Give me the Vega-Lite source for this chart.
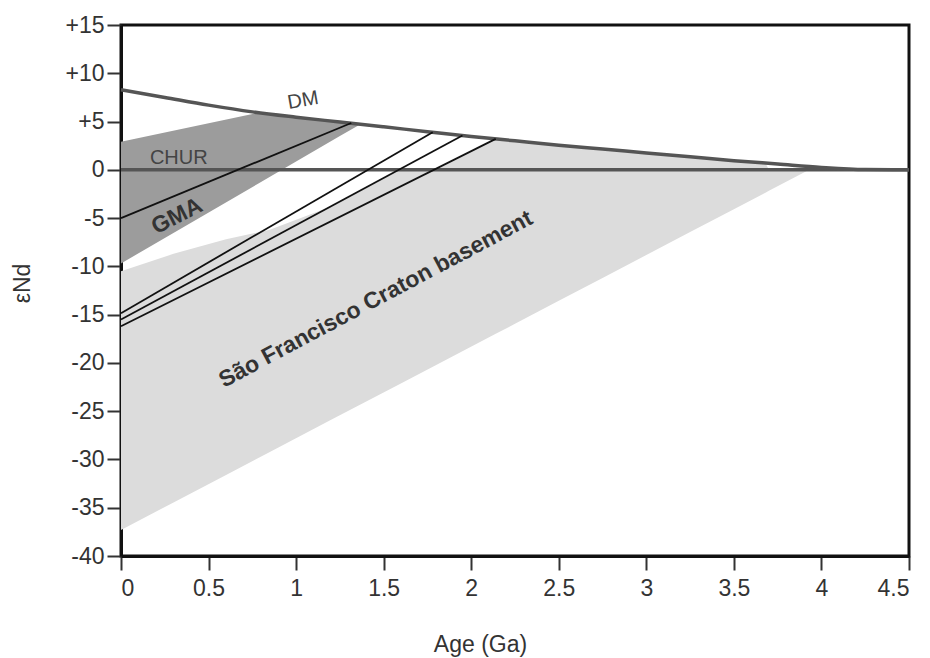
{
  "$schema": "https://vega.github.io/schema/vega-lite/v6.json",
  "width": 788,
  "height": 531,
  "autosize": {"type": "none"},
  "padding": {"left": 121, "top": 25, "right": 21, "bottom": 102},
  "background": "white",
  "config": {
    "view": {"stroke": "#111", "strokeWidth": 3},
    "font": "Liberation Sans"
  },
  "datasets": {
    "craton": [
      {"x": 0, "lo": -37.3, "hi": -10.5},
      {"x": 0.3, "lo": -34.45, "hi": -8.7},
      {"x": 0.6, "lo": -31.6, "hi": -7.2},
      {"x": 0.85, "lo": -29.23, "hi": -6.2},
      {"x": 1.2, "lo": -25.9, "hi": -3.8},
      {"x": 1.59, "lo": -22.21, "hi": 0},
      {"x": 1.8, "lo": -20.22, "hi": 0},
      {"x": 2.14, "lo": -16.99, "hi": 3.2},
      {"x": 2.25, "lo": -15.95, "hi": 3.0},
      {"x": 2.5, "lo": -13.57, "hi": 2.55},
      {"x": 2.75, "lo": -11.2, "hi": 2.15},
      {"x": 3.0, "lo": -8.83, "hi": 1.75},
      {"x": 3.25, "lo": -6.45, "hi": 1.35},
      {"x": 3.5, "lo": -4.08, "hi": 0.95},
      {"x": 3.68, "lo": -2.37, "hi": 0.7},
      {"x": 3.7, "lo": -2.18, "hi": 0},
      {"x": 3.93, "lo": 0, "hi": 0}
    ],
    "gma": [
      {"x": 0, "lo": -9.7, "hi": 2.9},
      {"x": 0.78, "lo": -1.47, "hi": 5.9},
      {"x": 1.0, "lo": 0.85, "hi": 5.45},
      {"x": 1.25, "lo": 3.5, "hi": 4.95},
      {"x": 1.37, "lo": 4.75, "hi": 4.75}
    ],
    "dm": [
      {"x": 0, "e": 8.3},
      {"x": 0.25, "e": 7.5},
      {"x": 0.5, "e": 6.7},
      {"x": 0.75, "e": 6.0},
      {"x": 1.0, "e": 5.45},
      {"x": 1.25, "e": 4.95},
      {"x": 1.5, "e": 4.45},
      {"x": 1.75, "e": 3.95},
      {"x": 2.0, "e": 3.45},
      {"x": 2.25, "e": 3.0},
      {"x": 2.5, "e": 2.55},
      {"x": 2.75, "e": 2.15},
      {"x": 3.0, "e": 1.75},
      {"x": 3.25, "e": 1.35},
      {"x": 3.5, "e": 0.95},
      {"x": 3.75, "e": 0.6},
      {"x": 4.0, "e": 0.25},
      {"x": 4.25, "e": 0.03},
      {"x": 4.5, "e": 0}
    ],
    "chur": [
      {"x": 0, "e": 0},
      {"x": 4.5, "e": 0}
    ],
    "lines": [
      {"id": "L0", "x": 0, "e": -5.0},
      {"id": "L0", "x": 1.315, "e": 4.85},
      {"id": "L1", "x": 0, "e": -14.85},
      {"id": "L1", "x": 1.78, "e": 3.9},
      {"id": "L2", "x": 0, "e": -15.5},
      {"id": "L2", "x": 1.95, "e": 3.55},
      {"id": "L3", "x": 0, "e": -16.2},
      {"id": "L3", "x": 2.14, "e": 3.2}
    ],
    "labelsNormal": [
      {"text": "DM", "x": 1.04, "e": 7.2, "angle": 350},
      {"text": "CHUR", "x": 0.33, "e": 1.2, "angle": 0}
    ],
    "labelsBold": [
      {"text": "GMA", "x": 0.32, "e": -4.8, "angle": 333},
      {"text": "São Francisco Craton basement", "x": 1.455, "e": -13.4, "angle": 332}
    ]
  },
  "layer": [
    {
      "data": {"name": "craton"},
      "mark": {"type": "area", "color": "#dcdcdc", "opacity": 1},
      "encoding": {
        "x": {
          "field": "x", "type": "quantitative",
          "scale": {"domain": [0, 4.5], "nice": false, "zero": false},
          "axis": {
            "values": [0, 0.5, 1, 1.5, 2, 2.5, 3, 3.5, 4, 4.5],
            "labelExpr": "'' + datum.value",
            "title": "Age (Ga)",
            "grid": false,
            "domainColor": "#111", "domainWidth": 3,
            "tickColor": "#333", "tickWidth": 2, "tickSize": 14,
            "labelFontSize": 23, "labelColor": "#333", "labelPadding": 7,
            "labelFont": "Liberation Sans",
            "titleFont": "Liberation Sans", "titleFontSize": 23, "titleFontWeight": "normal", "titleColor": "#333",
            "titleX": 359, "titleY": 88, "titleBaseline": "middle", "titleAlign": "center"
          }
        },
        "y": {
          "field": "lo", "type": "quantitative",
          "scale": {"domain": [-40, 15], "nice": false, "zero": false},
          "axis": {
            "values": [-40, -35, -30, -25, -20, -15, -10, -5, 0, 5, 10, 15],
            "labelExpr": "datum.value > 0 ? '+' + datum.value : '' + datum.value",
            "title": "εNd",
            "grid": false,
            "domainColor": "#111", "domainWidth": 3,
            "tickColor": "#333", "tickWidth": 2, "tickSize": 14,
            "labelFontSize": 23, "labelColor": "#333", "labelPadding": 3,
            "labelFont": "Liberation Sans",
            "titleFont": "Liberation Sans", "titleFontSize": 23, "titleFontWeight": "normal", "titleColor": "#333",
            "titleX": -99, "titleY": 258, "titleBaseline": "middle", "titleAlign": "center"
          }
        },
        "y2": {"field": "hi"}
      }
    },
    {
      "data": {"name": "gma"},
      "mark": {"type": "area", "color": "#9c9c9c", "opacity": 1},
      "encoding": {
        "x": {"field": "x", "type": "quantitative"},
        "y": {"field": "lo", "type": "quantitative"},
        "y2": {"field": "hi"}
      }
    },
    {
      "data": {"name": "chur"},
      "mark": {"type": "line", "color": "#555", "strokeWidth": 3.5},
      "encoding": {
        "x": {"field": "x", "type": "quantitative"},
        "y": {"field": "e", "type": "quantitative"}
      }
    },
    {
      "data": {"name": "dm"},
      "mark": {"type": "line", "color": "#555", "strokeWidth": 3.5, "interpolate": "monotone"},
      "encoding": {
        "x": {"field": "x", "type": "quantitative"},
        "y": {"field": "e", "type": "quantitative"}
      }
    },
    {
      "data": {"name": "lines"},
      "mark": {"type": "line", "color": "#111", "strokeWidth": 1.8},
      "encoding": {
        "x": {"field": "x", "type": "quantitative"},
        "y": {"field": "e", "type": "quantitative"},
        "detail": {"field": "id"}
      }
    },
    {
      "data": {"name": "labelsNormal"},
      "mark": {"type": "text", "fontSize": 20, "color": "#444", "align": "center", "baseline": "middle", "font": "Liberation Sans"},
      "encoding": {
        "x": {"field": "x", "type": "quantitative"},
        "y": {"field": "e", "type": "quantitative"},
        "text": {"field": "text"},
        "angle": {"field": "angle", "type": "quantitative", "scale": null}
      }
    },
    {
      "data": {"name": "labelsBold"},
      "mark": {"type": "text", "fontSize": 23, "fontWeight": "bold", "color": "#333", "align": "center", "baseline": "middle", "font": "Liberation Sans"},
      "encoding": {
        "x": {"field": "x", "type": "quantitative"},
        "y": {"field": "e", "type": "quantitative"},
        "text": {"field": "text"},
        "angle": {"field": "angle", "type": "quantitative", "scale": null}
      }
    }
  ]
}
